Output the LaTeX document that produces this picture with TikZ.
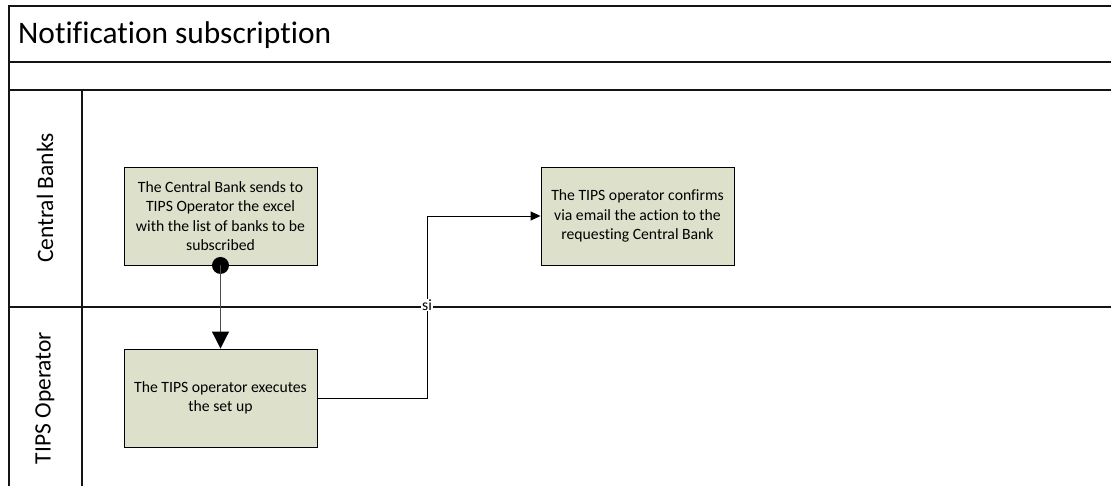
\documentclass[tikz,border=0pt]{standalone}
\usepackage{fontspec}
\setmainfont{Carlito}[Ligatures={NoCommon}]
\usetikzlibrary{arrows.meta}
\definecolor{boxfill}{RGB}{221,224,203}
\definecolor{frameline}{RGB}{20,20,20}
\tikzset{
  frame/.style={line width=1.6pt, draw=frameline},
  taskbox/.style={draw=black, line width=0.9pt, fill=boxfill, minimum width=193pt, minimum height=98pt, inner sep=0pt, align=center, font=\fontsize{15.7}{19.3}\selectfont},
  lanelabel/.style={rotate=90, font=\fontsize{23.5}{28}\selectfont, inner sep=0pt},
  flow/.style={draw=black, line width=0.9pt},
}
\begin{document}
\begin{tikzpicture}[x=1pt,y=-1pt]
\useasboundingbox (0,0) rectangle (1111,486);
\fill[white] (0,0) rectangle (1111,486);
% frame
\draw[frame] (1112,6) -- (9,6) -- (9,487);
\draw[frame] (9,62) -- (1112,62);
\draw[frame] (9,90) -- (1112,90);
\draw[frame] (9,307) -- (1112,307);
\draw[frame] (82,90) -- (82,487);
\node[anchor=west, font=\fontsize{31.4}{38}\selectfont, inner sep=0pt] (title) at (18,35) {Notification subscription};
\node[lanelabel] (lane1) at (45,198) {Central Banks};
\node[lanelabel] (lane2) at (45,398) {TIPS Operator};
% tasks
\node[taskbox] (t1) at (220.5,216) {The Central Bank sends to\\TIPS Operator the excel\\with the list of banks to be\\subscribed};
\node[taskbox] (t2) at (220.5,398) {The TIPS operator executes\\the set up};
\node[taskbox] (t3) at (637.5,216) {The TIPS operator confirms\\via email the action to the\\requesting Central Bank};
% connectors
\fill[black] (t1.south) circle (8.5);
\draw[draw=black!70, line width=1pt, -{Triangle[length=17pt,width=17pt,color=black]}] (t1.south) -- (t2.north);
\coordinate (bend) at (427,398);
\draw[flow, -{Triangle[length=10pt,width=9pt]}] (t2.east) -- (bend) -- (bend |- t3.west) -- (t3.west);
\node[fill=white, inner sep=1pt, font=\fontsize{15.7}{19.3}\selectfont] (si) at (427,305) {si};
\end{tikzpicture}
\end{document}
